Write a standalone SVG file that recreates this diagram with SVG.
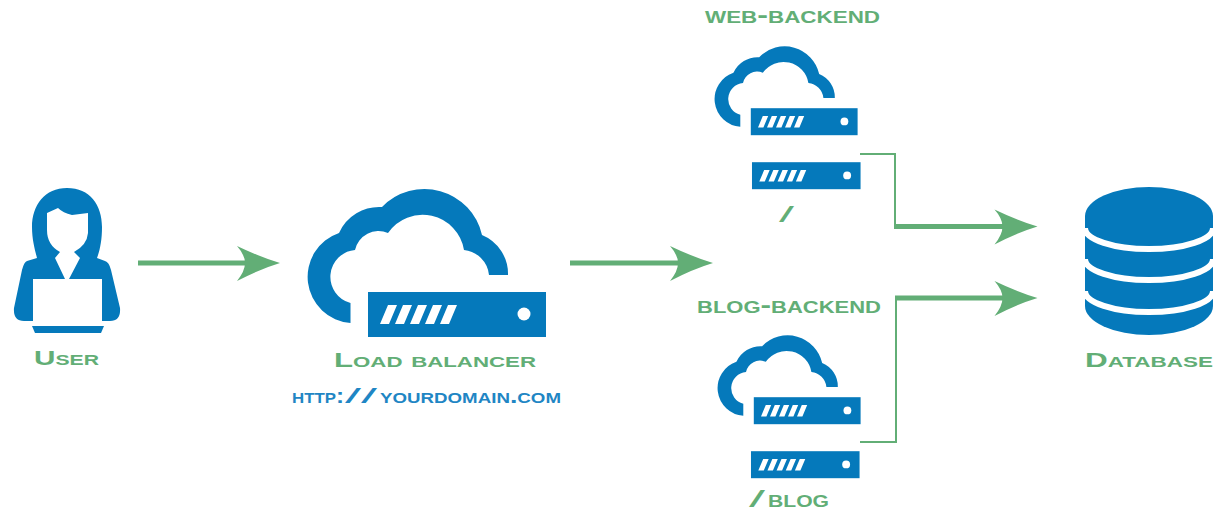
<svg xmlns="http://www.w3.org/2000/svg" width="1213" height="511" viewBox="0 0 1213 511">
<style>
.b{fill:#0579BB}
.w{fill:#fff}
.thick{fill:none;stroke:#62AE76;stroke-width:5;marker-end:url(#head)}
.thin{fill:none;stroke:#62AE76;stroke-width:2}
text{font-family:"Liberation Sans","DejaVu Sans",sans-serif;font-weight:bold;font-variant:small-caps;fill:#62AE76}
.url{fill:#1F86C4}
.sl{font-weight:normal}
</style>
<defs>
<marker id="head" markerUnits="userSpaceOnUse" viewBox="-45 -20 50 40" refX="-30" refY="0" markerWidth="50" markerHeight="40" orient="auto">
<path d="M0 0Q-20-6-43-17Q-35-8-35 0Q-35 8-43 18Q-20 6 0 0Z" fill="#62AE76"/>
</marker>
<g id="server">
<rect class="b" x="368" y="292" width="178" height="45"/>
<path class="w" d="M388 305h9l-8 19h-9zM403 305h9l-8 19h-9zM418 305h9l-8 19h-9zM433 305h9l-8 19h-9zM448 305h9l-8 19h-9z"/>
<circle class="w" cx="524" cy="314" r="6.500"/>
</g>
<path id="cloud" class="b" d="M350.500 323A46.300 46.300 0 0 1 339 233A44 44 0 0 1 382 207A59 59 0 0 1 482 235A42 42 0 0 1 508 275H489A28 28 0 0 0 464 250A42 42 0 0 0 388 233A24 24 0 0 0 355 250A27 27 0 0 0 350.500 303Z"/>
</defs>
<g id="connectors">
<path class="thick" d="M138 263H250"/>
<path class="thick" d="M570 263H683"/>
<path class="thin" d="M860 154H895V226"/>
<path class="thick" d="M894 226.500H1007.500"/>
<path class="thin" d="M860 442H896V298"/>
<path class="thick" d="M895 298H1007.500"/>
</g>
<g id="user">
<path class="b" d="M67 188C45 188 32 205 32 227C32 240 35 250 37 258L27 261Q24 262 22 270L14 308Q13 321 24 321H110Q121 321 120 308L111 270Q109 262 105 261L97 258C100 250 102 240 102 227C102 205 90 188 67 188Z"/>
<path class="w" d="M58 208Q63 213 72 215L88 213V233Q87 245 74 252L80 258L69 279H65L55 258L60 252Q47 245 47 230V213Z"/>
<rect class="w" x="33" y="279" width="69" height="42"/>
<path class="b" d="M32 326H104L101 333H35Z"/>
<text x="34" y="365" font-size="21" textLength="65" lengthAdjust="spacingAndGlyphs">User</text>
</g>
<g id="load-balancer">
<use href="#cloud"/>
<use href="#server"/>
<text x="334" y="367" font-size="21" textLength="202" lengthAdjust="spacingAndGlyphs">Load balancer</text>
<text class="url" y="403" font-size="20"><tspan x="292" textLength="52" lengthAdjust="spacingAndGlyphs">http:</tspan><tspan class="sl" x="345" textLength="32" lengthAdjust="spacingAndGlyphs">//</tspan><tspan x="380" textLength="181" lengthAdjust="spacingAndGlyphs">yourdomain.com</tspan></text>
</g>
<g id="web-backend">
<text x="705" y="23" font-size="23" textLength="175" lengthAdjust="spacingAndGlyphs">web-backend</text>
<use href="#cloud" transform="translate(530 -67) scale(.6)"/>
<use href="#server" transform="translate(530 -67) scale(.6)"/>
<use href="#server" transform="translate(527.500 -13) scale(.61 .6)"/>
<text class="sl" x="779" y="222" font-size="22" textLength="15" lengthAdjust="spacingAndGlyphs">/</text>
</g>
<g id="blog-backend">
<text x="697" y="313" font-size="23" textLength="184" lengthAdjust="spacingAndGlyphs">blog-backend</text>
<use href="#cloud" transform="translate(533 222) scale(.6)"/>
<use href="#server" transform="translate(533 222) scale(.6)"/>
<use href="#server" transform="translate(526.500 276) scale(.61 .6)"/>
<text y="507" font-size="24"><tspan class="sl" x="749" textLength="16" lengthAdjust="spacingAndGlyphs">/</tspan><tspan x="768" textLength="61" lengthAdjust="spacingAndGlyphs">blog</tspan></text>
</g>
<g id="database">
<path class="b" d="M1085 216A64 29 0 0 1 1213 216V306A64 29 0 0 1 1085 306Z"/>
<path d="M1085 228A64 21 0 0 0 1213 228M1085 259A64 21 0 0 0 1213 259M1085 291A64 21 0 0 0 1213 291" fill="none" stroke="#fff" stroke-width="6"/>
<text x="1085" y="367" font-size="21" textLength="128" lengthAdjust="spacingAndGlyphs">Database</text>
</g>
</svg>
